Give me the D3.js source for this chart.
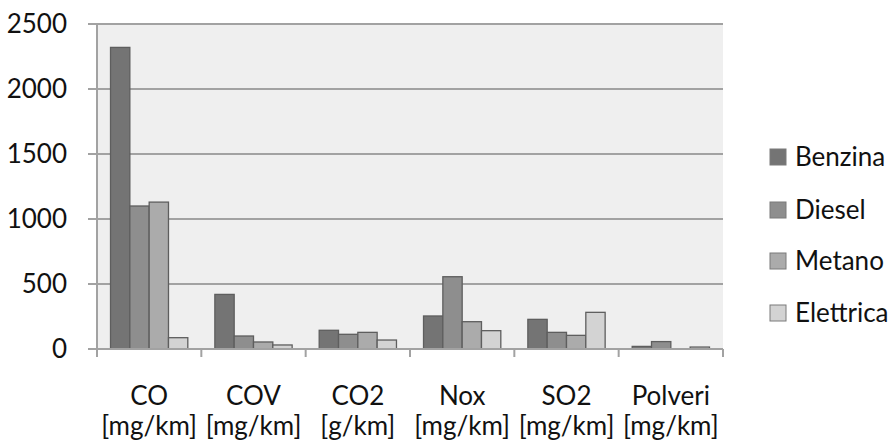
<!DOCTYPE html>
<html><head><meta charset="utf-8">
<script src="https://cdn.jsdelivr.net/npm/d3@7"></script>
<style>body{margin:0;background:#fff}svg{display:block}text{font-family:Lato,"Open Sans",sans-serif;fill:#111}</style>
</head><body><svg id="c" width="892" height="443"></svg>
<script>
const categories = ["CO","COV","CO2","Nox","SO2","Polveri"];
const units = ["[mg/km]","[mg/km]","[g/km]","[mg/km]","[mg/km]","[mg/km]"];
const seriesNames = ["Benzina","Diesel","Metano","Elettrica"];
const benzina   = [2320, 420, 144, 254, 228, 20];
const diesel    = [1100, 100, 113, 556, 128, 57];
const metano    = [1130, 54, 128, 210, 105, 0];
const elettrica = [87, 31, 69, 141, 282, 15];
const yTicks = [0, 500, 1000, 1500, 2000, 2500];
const colors = ["#747474","#8e8e8e","#ababab","#d3d3d3"];
const seriesVals = [benzina, diesel, metano, elettrica];

const svg = d3.select("#c");
const L = 97, T = 24, R = 723, B = 349;
const FS = 26;
const x = d3.scaleBand().domain(categories).range([L, R]).paddingInner(0).paddingOuter(0);
const xs = d3.scaleBand().domain(seriesNames).range([0, x.bandwidth()]).paddingInner(0).paddingOuter(0.7);
const y = d3.scaleLinear().domain([0, 2500]).range([B, T]);

svg.append("rect").attr("x", L).attr("y", T).attr("width", R - L).attr("height", B - T).attr("fill", "#efefef");

// gridlines
svg.append("g").selectAll("line").data(yTicks.filter(d => d > 0)).join("line")
  .attr("x1", L - 9).attr("x2", R).attr("y1", d => y(d)).attr("y2", d => y(d))
  .attr("stroke", "#a2a2a2").attr("stroke-width", 2);

// bars
const g = svg.append("g");
seriesNames.forEach((s, si) => {
  g.append("g").selectAll("rect").data(categories).join("rect")
    .attr("x", c => x(c) + xs(s))
    .attr("width", xs.bandwidth())
    .attr("y", (c, i) => y(seriesVals[si][i]))
    .attr("height", (c, i) => B - y(seriesVals[si][i]))
    .attr("fill", colors[si])
    .attr("stroke", "#5e5e5e")
    .attr("stroke-width", 1.3)
    .attr("display", (c, i) => seriesVals[si][i] > 0 ? null : "none");
});

// y axis
const yAxis = d3.axisLeft(y).tickValues(yTicks).tickSize(0).tickPadding(30).tickFormat(d3.format("d"));
const ya = svg.append("g").attr("transform", `translate(${L},0)`).call(yAxis);
ya.select(".domain").remove();
ya.selectAll("text").attr("font-size", FS).attr("fill", "#111").attr("font-family", "Lato");
svg.append("line").attr("x1", L).attr("x2", L).attr("y1", T).attr("y2", B + 8).attr("stroke", "#a2a2a2").attr("stroke-width", 2);
svg.append("line").attr("x1", L - 9).attr("x2", R).attr("y1", B).attr("y2", B).attr("stroke", "#a2a2a2").attr("stroke-width", 2);

// x axis ticks
const xTickPos = categories.map(c => x(c)).concat([R]);
svg.append("g").selectAll("line").data(xTickPos).join("line")
  .attr("x1", d => d).attr("x2", d => d).attr("y1", B).attr("y2", B + 8)
  .attr("stroke", "#a2a2a2").attr("stroke-width", 2);

// x labels
const xl = svg.append("g");
categories.forEach((c, i) => {
  const cx = x(c) + x.bandwidth() / 2;
  xl.append("text").attr("x", cx).attr("y", 405).attr("text-anchor", "middle").attr("font-size", FS).text(c);
  xl.append("text").attr("x", cx).attr("y", 435).attr("text-anchor", "middle").attr("font-size", FS).text(units[i]);
});

// legend
const leg = svg.append("g");
const legY = [157, 210, 261, 313];
seriesNames.forEach((s, i) => {
  leg.append("rect").attr("x", 770).attr("y", legY[i] - 8).attr("width", 16).attr("height", 16)
    .attr("fill", colors[i]).attr("stroke", "#7a7a7a").attr("stroke-width", 1);
  leg.append("text").attr("x", 795).attr("y", legY[i] + 9).attr("font-size", FS).text(s);
});
</script></body></html>
